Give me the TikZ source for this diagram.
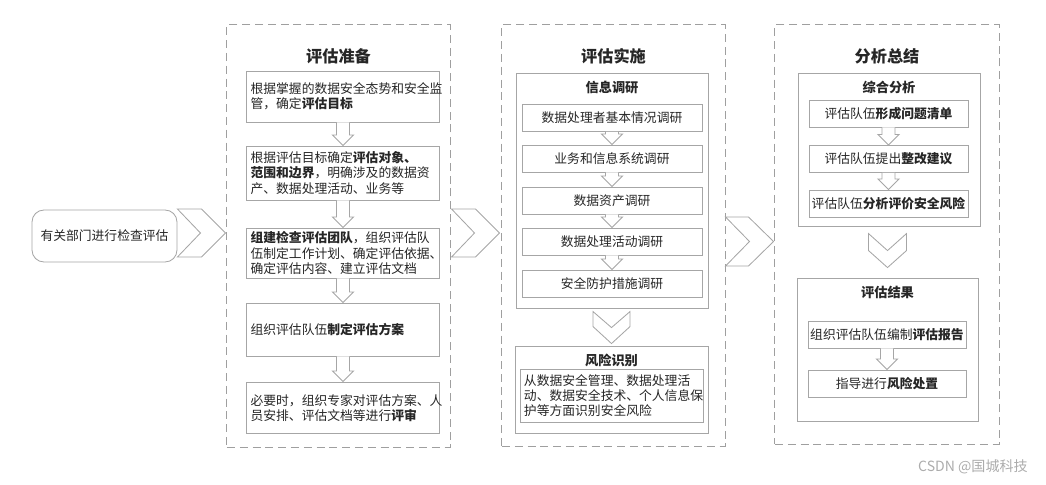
\documentclass[tikz,border=0pt]{standalone}
\usepackage{fontspec}
\setmainfont{Noto Sans CJK SC}
\usepackage{xcolor}
\usepackage{tikz}
\usetikzlibrary{positioning, calc}

% hollow block arrow from the bottom of one box to the top of the next
\newcommand{\blockdown}[2]{%
  \draw[harrow] ($(#1.south)+(-6.5,0)$) -- ($(#2.north)+(-6.5,-10.5)$)
    -- ($(#2.north)+(-10.5,-10.5)$) -- (#2.north)
    -- ($(#2.north)+(10.5,-10.5)$) -- ($(#2.north)+(6.5,-10.5)$)
    -- ($(#1.south)+(6.5,0)$);}

\begin{document}
\begin{tikzpicture}[
    x=0.025cm, y=-0.025cm,
    every node/.style={text=black!85},
    stage/.style={rectangle, draw=gray!75, line width=0.7pt,
                  dash pattern=on 0.2cm off 0.12cm, inner sep=0pt},
    card/.style={rectangle, draw=gray!70, fill=white, line width=0.6pt,
                 font=\fontsize{9.1}{10.8}\selectfont, inner sep=0pt},
    textcard/.style={card, align=left, inner xsep=0.1cm},
    head/.style={font=\fontsize{11.5}{13}\selectfont\bfseries, inner sep=0pt},
    subhead/.style={font=\fontsize{9.4}{11}\selectfont\bfseries, inner sep=0pt},
    chev/.style={draw=gray!70, fill=white, line width=0.6pt, line join=miter},
    harrow/.style={draw=gray!70, fill=white, line width=0.6pt},
]
\useasboundingbox (0,0) rectangle (1046,485);

% Start
\node[card, rounded corners=0.3cm, minimum width=3.625cm, minimum height=1.3cm]
    (start) at (104.5,236) {有关部门进行检查评估};

% Stage 1: preparation
\node[stage, minimum width=5.575cm, minimum height=10.55cm] (prep) at (338.5,236) {};
\node[head, below=0.6cm of prep.north] (prept) {评估准备};
\node[textcard, text width=4.62cm, minimum height=1.275cm] (goal) at (343,96.5) {
    根据掌握的数据安全态势和安全监\\
    管，确定\textbf{评估目标}};
\node[textcard, text width=4.62cm, minimum height=1.35cm] (scope) at (343,173) {
    根据评估目标确定\textbf{评估对象、}\\
    \textbf{范围和边界}，明确涉及的数据资\\
    产、数据处理活动、业务等};
\node[textcard, text width=4.62cm, minimum height=1.25cm] (team) at (343,253) {
    \textbf{组建检查评估团队}，组织评估队\\
    伍制定工作计划、确定评估依据、\\
    确定评估内容、建立评估文档};
\node[textcard, text width=4.62cm, minimum height=1.325cm] (plan) at (343,329.5) {
    组织评估队伍\textbf{制定评估方案}};
\node[textcard, text width=4.62cm, minimum height=1.275cm] (review) at (343,407.5) {
    \\[-2pt]
    必要时，组织专家对评估方案、人\\
    员安排、评估文档等进行\textbf{评审}};

\blockdown{goal}{scope}
\blockdown{scope}{team}
\blockdown{team}{plan}
\blockdown{plan}{review}

% Stage 2: implementation
\node[stage, minimum width=5.575cm, minimum height=10.525cm] (impl) at (613.5,235.5) {};
\node[head, below=0.6cm of impl.north] (implt) {评估实施};
\node[card, minimum width=4.8cm, minimum height=5.875cm] (info) at (612,190.5) {};
\node[subhead, below=0.2cm of info.north] (infot) {信息调研};
\node[card, minimum width=4.5cm, minimum height=0.675cm] (basic) at (612,118) {数据处理者基本情况调研};
\node[card, minimum width=4.5cm, minimum height=0.675cm] (biz) at (612,158.5) {业务和信息系统调研};
\node[card, minimum width=4.5cm, minimum height=0.675cm] (asset) at (612,200.5) {数据资产调研};
\node[card, minimum width=4.5cm, minimum height=0.675cm] (act) at (612,241.5) {数据处理活动调研};
\node[card, minimum width=4.5cm, minimum height=0.675cm] (guard) at (612,283.5) {安全防护措施调研};

\blockdown{basic}{biz}
\blockdown{biz}{asset}
\blockdown{asset}{act}
\blockdown{act}{guard}

\node[card, minimum width=4.825cm, minimum height=2.175cm] (risk) at (611.5,389.5) {};
\node[subhead, below=0.2cm of risk.north] (riskt) {风险识别};
\node[textcard, text width=4.375cm, minimum height=1.325cm] (riskd) at (611.5,395.5) {
    从数据安全管理、数据处理活\\
    动、数据安全技术、个人信息保\\
    护等方面识别安全风险};

\draw[chev] ($(risk.north)+(-18.5,-34)$) -- ++(18.5,16) -- ++(18.5,-16) -- ++(0,15)
    -- ++(-18.5,17) -- ++(-18.5,-17) -- cycle;

% Stage 3: summary
\node[stage, minimum width=5.6cm, minimum height=10.475cm] (summ) at (887,234.5) {};
\node[head, below=0.6cm of summ.north] (summt) {分析总结};
\node[card, minimum width=4.55cm, minimum height=3.825cm] (synth) at (889,149.5) {};
\node[subhead, below=0.2cm of synth.north] (syntht) {综合分析};
\node[card, minimum width=3.975cm, minimum height=0.675cm] (issues) at (888.5,113.5) {评估队伍\textbf{形成问题清单}};
\node[card, minimum width=3.975cm, minimum height=0.675cm] (advice) at (888.5,159) {评估队伍提出\textbf{整改建议}};
\node[card, minimum width=3.975cm, minimum height=0.675cm] (evalr) at (888.5,203.5) {评估队伍\textbf{分析评价安全风险}};

\blockdown{issues}{advice}
\blockdown{advice}{evalr}

\node[card, minimum width=4.525cm, minimum height=3.575cm] (result) at (887.5,349.5) {};
\node[subhead, below=0.2cm of result.north] (resultt) {评估结果};
\node[card, minimum width=3.95cm, minimum height=0.675cm] (report) at (887,334.5) {组织评估队伍编制\textbf{评估报告}};
\node[card, minimum width=3.95cm, minimum height=0.675cm] (handle) at (887,383.5) {指导进行\textbf{风险处置}};

\blockdown{report}{handle}

\draw[chev] ($(result.north)+(-19,-44)$) -- ++(19,17) -- ++(19,-17) -- ++(0,17)
    -- ++(-19,17) -- ++(-19,-17) -- cycle;

% Stage chevrons
\draw[chev] ($(start.east)+(0,-27)$) -- ++(24,0) -- ++(24,24) -- ++(-24,24)
    -- ++(-24,0) -- ++(23,-24) -- cycle;
\draw[chev] ($(prep.east)+(1,-27)$) -- ++(24,0) -- ++(24,24) -- ++(-24,24)
    -- ++(-24,0) -- ++(23,-24) -- cycle;
\draw[chev] ($(impl.east)+(0,-18.5)$) -- ++(23,0) -- ++(25,24.5) -- ++(-25,24.5)
    -- ++(-23,0) -- ++(24,-24.5) -- cycle;

% Credit
\node[anchor=east, text=gray!65, font=\fontsize{10}{12}\selectfont, inner sep=0pt]
    (credit) at (1028,467) {CSDN @国城科技};

\end{tikzpicture}
\end{document}
